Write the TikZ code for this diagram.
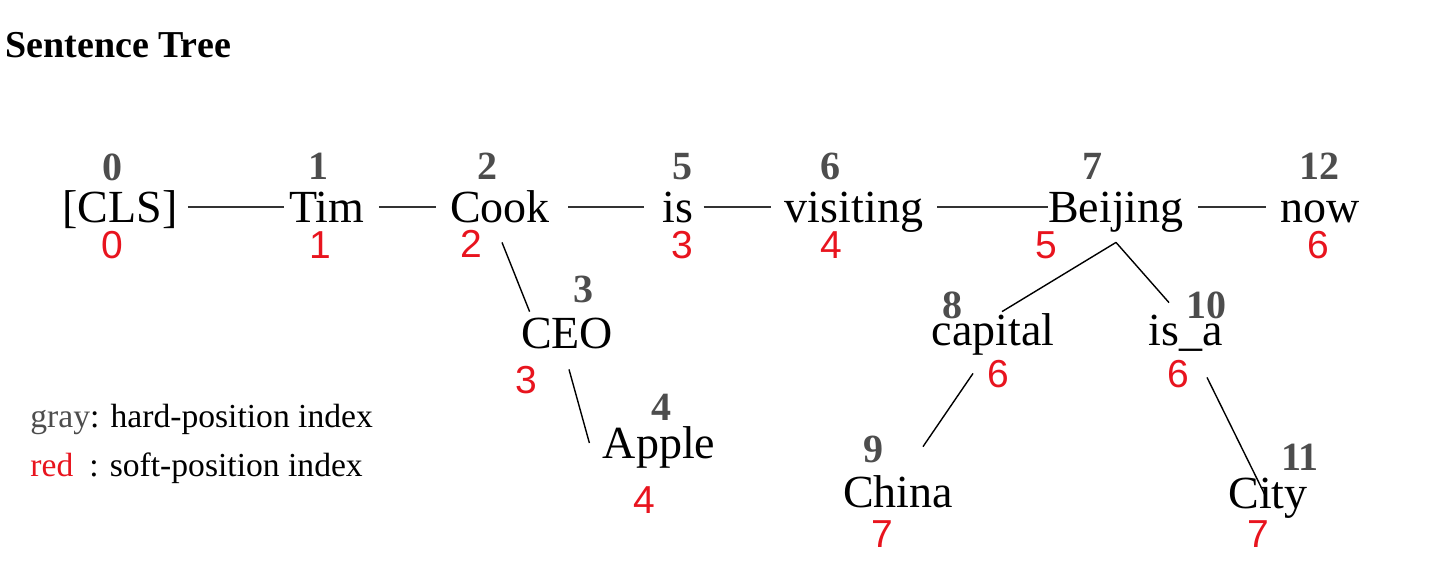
\documentclass[tikz,border=0pt]{standalone}
\usepackage{fontspec}
\setmainfont{Liberation Serif}
\newfontfamily\softfont{Liberation Sans}
\usepackage{tikz}
\definecolor{hardgray}{HTML}{4D4D4D}
\definecolor{softred}{HTML}{E8141E}
\definecolor{linkgray}{HTML}{333333}

\begin{document}
\begin{tikzpicture}[x=0.5pt,y=-0.5pt]
	\tikzset{word/.style={anchor=base,inner sep=0pt,text height=15pt,text depth=0pt,font=\fontsize{23}{26}\selectfont}}
	\tikzset{hard/.style={anchor=base,inner sep=0pt,text=hardgray,font=\fontsize{20}{22}\selectfont\bfseries}}
	\tikzset{soft/.style={anchor=base,inner sep=0pt,text=softred,font=\fontsize{19.5}{22}\selectfont\softfont}}
	\tikzset{link/.style={draw=linkgray,line width=1pt,shorten <=7pt,shorten >=7pt}}
	\tikzset{branch/.style={draw=black,line width=0.7pt}}
	\useasboundingbox (0,0) rectangle (1440,569);

	\node[anchor=base west,inner sep=0pt,font=\fontsize{19}{22}\selectfont\bfseries] (title) at (5,57) {Sentence Tree};

	% main sentence
	\node[word] (cls) at (120,222) {[CLS]};
	\node[word] (tim) at (327,222) {Tim};
	\node[word] (cook) at (500,222) {Cook};
	\node[word] (is) at (678,222) {is};
	\node[word] (visiting) at (854,222) {visiting};
	\node[word] (beijing) at (1116,222) {Beijing};
	\node[word] (now) at (1320,222) {now};
	% branches
	\node[word] (ceo) at (567,348) {CEO};
	\node[word] (apple) at (659,458) {Apple};
	\node[word] (capital) at (993,345) {capital};
	\node[word] (isa) at (1186,345) {is\_a};
	\node[word] (china) at (898,507) {China};
	\node[word] (city) at (1268,508) {City};

	% hard-position index
	\node[hard] (hcls) at (112,180) {0};
	\node[hard] (htim) at (318,179) {1};
	\node[hard] (hcook) at (487,179) {2};
	\node[hard] (his) at (682,179) {5};
	\node[hard] (hvisiting) at (830,179) {6};
	\node[hard] (hbeijing) at (1092,179) {7};
	\node[hard] (hnow) at (1319,179) {12};
	\node[hard] (hceo) at (583,302) {3};
	\node[hard] (happle) at (661,420) {4};
	\node[hard] (hcapital) at (952,318) {8};
	\node[hard] (hisa) at (1206,318) {10};
	\node[hard] (hchina) at (873,462) {9};
	\node[hard] (hcity) at (1300,470) {11};

	% soft-position index
	\node[soft] (scls) at (112,258) {0};
	\node[soft] (stim) at (320,258) {1};
	\node[soft] (scook) at (471,257) {2};
	\node[soft] (sis) at (682,258) {3};
	\node[soft] (svisiting) at (831,258) {4};
	\node[soft] (sbeijing) at (1046,258) {5};
	\node[soft] (snow) at (1318,258) {6};
	\node[soft] (sceo) at (526,393) {3};
	\node[soft] (sapple) at (644,513) {4};
	\node[soft] (scapital) at (998,387) {6};
	\node[soft] (sisa) at (1178,387) {6};
	\node[soft] (schina) at (882,547) {7};
	\node[soft] (scity) at (1258,547) {7};

	\draw[link,shorten <=5pt,shorten >=2.5pt] (cls) -- (tim);
	\draw[link] (tim) -- (cook);
	\draw[link,shorten <=9pt,shorten >=9pt] (cook) -- (is);
	\draw[link,shorten <=5pt] (is) -- (visiting);
	\draw[link,shorten >=0pt] (visiting) -- (beijing);
	\draw[link] (beijing) -- (now);

	\draw[branch] ([shift={(2,20)}]cook.south) -- ([shift={(9,-6)}]ceo.north west);
	\draw[branch] ([shift={(2,21)}]ceo.south) -- ([shift={(-13,0)}]apple.west);
	\draw[branch] ([shift={(0,20)}]beijing.south) -- ([shift={(9,-3)}]capital.north);
	\draw[branch] ([shift={(0,20)}]beijing.south) -- ([shift={(-17,-12)}]isa.north);
	\draw[branch] ([shift={(-20,28)}]capital.south) -- ([shift={(25,-30)}]china.north);
	\draw[branch] ([shift={(21,32)}]isa.south) -- ([shift={(-3,2)}]city.center);

	% legend
	\node[anchor=base west,inner sep=0pt,font=\fontsize{16.8}{19}\selectfont] (legendhard) at (30,427) {\textcolor{hardgray}{gray}: hard-position index};
	\node[anchor=base west,inner sep=0pt,font=\fontsize{16.8}{19}\selectfont] (legendsoft) at (30,476) {\textcolor{softred}{red}\hspace{8pt}: soft-position index};
\end{tikzpicture}
\end{document}
